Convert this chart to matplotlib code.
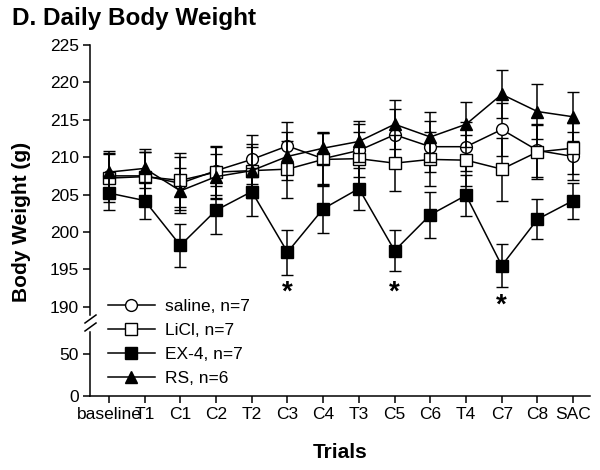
import matplotlib
matplotlib.use('Agg')
import matplotlib.pyplot as plt
import numpy as np
from matplotlib.lines import Line2D

plt.rcParams['font.family'] = ['Liberation Sans', 'DejaVu Sans']

# datos
trials = ['baseline', 'T1', 'C1', 'C2', 'T2', 'C3', 'C4', 'T3', 'C5', 'C6',
          'T4', 'C7', 'C8', 'SAC']

saline = [207.5, 207.5, 206.5, 208.2, 209.7, 211.5, 209.8, 210.9, 213.0, 211.4,
          211.4, 213.7, 210.9, 210.1]
saline_err = [3.0, 3.2, 3.5, 3.2, 3.3, 3.2, 3.4, 3.5, 3.5, 3.4, 3.3, 3.5, 3.6, 3.2]

licl = [207.2, 207.4, 206.9, 208.0, 208.2, 208.4, 209.7, 209.8, 209.2, 209.7,
        209.6, 208.4, 210.7, 211.2]
licl_err = [3.2, 3.3, 3.6, 3.5, 3.6, 3.8, 3.5, 3.6, 3.7, 3.6, 3.4, 4.2, 3.6, 3.4]

ex4 = [205.2, 204.2, 198.2, 202.9, 205.4, 197.3, 203.1, 205.8, 197.5, 202.3,
       204.9, 195.5, 201.7, 204.2]
ex4_err = [2.3, 2.5, 2.9, 3.2, 3.2, 3.0, 3.2, 2.8, 2.7, 3.1, 2.7, 2.9, 2.7, 2.4]

rs = [208.0, 208.5, 205.5, 207.4, 208.2, 210.1, 211.2, 212.1, 214.4, 212.7,
      214.4, 218.4, 216.1, 215.4]
rs_err = [2.8, 2.6, 3.0, 3.0, 3.2, 3.2, 2.1, 2.8, 3.3, 3.3, 3.0, 3.2, 3.7, 3.3]

signif = ['C3', 'C5', 'C7']
signif_y = [191.9, 191.9, 190.2]

labels = ['saline, n=7', 'LiCl, n=7', 'EX-4, n=7', 'RS, n=6']

x = np.arange(len(trials))

fig = plt.figure(figsize=(6, 4.7), dpi=100)
ax1 = fig.add_axes([0.15, 0.3298, 0.8333, 0.5745])
ax2 = fig.add_axes([0.15, 0.1574, 0.8333, 0.1362])

estilos = [
    (saline, saline_err, 'o', 'white'),
    (licl, licl_err, 's', 'white'),
    (ex4, ex4_err, 's', 'black'),
    (rs, rs_err, '^', 'black'),
]

handles = []
for i, (y, e, m, fc) in enumerate(estilos):
    ax1.errorbar(x, y, yerr=e, color='black', lw=1.1, elinewidth=1.1,
                 capsize=4.5, capthick=1.1, marker=m, markersize=8.5,
                 markerfacecolor=fc, markeredgecolor='black',
                 markeredgewidth=1.0, zorder=2 + i)
    handles.append(Line2D([0], [0], color='black', lw=1.1, marker=m,
                          markersize=8.5, markerfacecolor=fc,
                          markeredgecolor='black', markeredgewidth=1.0))

for t, yy in zip(signif, signif_y):
    ax1.text(trials.index(t), yy, '*', ha='center', va='center',
             fontsize=20, fontweight='bold')

ax1.set_xlim(-0.53, 13.47)
ax2.set_xlim(-0.53, 13.47)
ax1.set_ylim(188.9, 225)
ax2.set_ylim(0, 76.5)

ax1.set_yticks([190, 195, 200, 205, 210, 215, 220, 225])
ax2.set_yticks([0, 50])
ax1.set_xticks([])
ax2.set_xticks(x)
ax2.set_xticklabels(trials)

for ax in [ax1, ax2]:
    ax.spines['top'].set_visible(False)
    ax.spines['right'].set_visible(False)
    ax.spines['left'].set_linewidth(1.1)
    ax.spines['bottom'].set_linewidth(1.1)
    ax.tick_params(direction='out', length=5, width=1.1, labelsize=12.5,
                   pad=3)
    ax.patch.set_alpha(0)
ax1.spines['bottom'].set_visible(False)

# marcas de corte del eje
for yb in [319, 327]:
    fig.add_artist(Line2D([85 / 600, 96 / 600],
                          [(470 - yb - 4) / 470, (470 - yb + 4) / 470],
                          color='black', lw=1.1))

fig.legend(handles, labels, loc='upper left',
           bbox_to_anchor=(108 / 600, (470 - 299) / 470),
           frameon=False, fontsize=12.5, handlelength=2.7,
           handletextpad=0.6, labelspacing=0.5, borderpad=0,
           borderaxespad=0)

fig.text(0.02, 0.985, 'D. Daily Body Weight', fontsize=17.5,
         fontweight='bold', va='top', ha='left')
fig.text(22 / 600, (470 - 222) / 470, 'Body Weight (g)', rotation=90,
         fontsize=15, fontweight='bold', ha='center', va='center')
fig.text(340 / 600, (470 - 453) / 470, 'Trials', fontsize=15,
         fontweight='bold', ha='center', va='center')

fig.savefig('out.png', dpi=100)
